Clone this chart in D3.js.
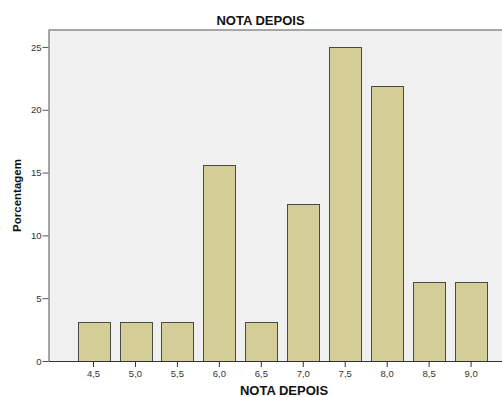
<!DOCTYPE html>
<html>
<head>
<meta charset="utf-8">
<script src="https://cdn.jsdelivr.net/npm/d3@7/dist/d3.min.js"></script>
<style>
  html, body { margin: 0; padding: 0; background: #fff; }
  svg { display: block; font-family: "Liberation Sans", Arial, sans-serif; }
</style>
</head>
<body>
<svg id="chart" width="502" height="397"></svg>
<script>
const categories = ["4,5", "5,0", "5,5", "6,0", "6,5", "7,0", "7,5", "8,0", "8,5", "9,0"];
const percentages = [3.125, 3.125, 3.125, 15.625, 3.125, 12.5, 25, 21.875, 6.25, 6.25];
const yTicks = [0, 5, 10, 15, 20, 25];
const chartTitle = "NOTA DEPOIS";
const xTitle = "NOTA DEPOIS";
const yTitle = "Porcentagem";

const data = categories.map((c, i) => ({ cat: c, value: percentages[i] }));

const svg = d3.select("#chart");
const plotLeft = 48.5, plotRight = 502, plotTop = 30, plotBottom = 361;

const x = d3.scaleBand()
  .domain(categories)
  .range([plotLeft, plotRight])
  .paddingInner(0.24)
  .paddingOuter(0.525)
  .align(0.66);

const y = d3.scaleLinear().domain([0, 26.35]).range([plotBottom, plotTop]);

// plot background
svg.append("rect")
  .attr("x", plotLeft).attr("y", plotTop)
  .attr("width", plotRight - plotLeft).attr("height", plotBottom - plotTop)
  .attr("fill", "#f0f0f0");

// top border
svg.append("line")
  .attr("x1", plotLeft).attr("x2", plotRight)
  .attr("y1", plotTop).attr("y2", plotTop)
  .attr("stroke", "#8c8c8c").attr("stroke-width", 1.5);

// bars
svg.append("g").selectAll("rect")
  .data(data)
  .join("rect")
  .attr("x", d => Math.round(x(d.cat)) + 0.5)
  .attr("y", d => Math.round(y(d.value)) + 0.5)
  .attr("width", Math.round(x.bandwidth()))
  .attr("height", d => Math.round(y(0)) - Math.round(y(d.value)))
  .attr("fill", "#d3ce97")
  .attr("stroke", "#4a4a44")
  .attr("stroke-width", 1);

// y axis
const yAxis = svg.append("g")
  .attr("transform", `translate(${plotLeft},0)`)
  .call(d3.axisLeft(y).tickValues(yTicks).tickSize(6).tickPadding(1).tickSizeOuter(0));
yAxis.select(".domain").attr("stroke", "#555");
yAxis.selectAll(".tick line").attr("stroke", "#555");
yAxis.selectAll("text").attr("font-size", "9.5px").attr("fill", "#333")
  .attr("font-family", "Liberation Sans, Arial, sans-serif");

// x axis
const xAxis = svg.append("g")
  .attr("transform", `translate(0,${plotBottom})`)
  .call(d3.axisBottom(x).tickSize(6).tickPadding(3).tickSizeOuter(0));
xAxis.select(".domain").attr("stroke", "#333");
xAxis.selectAll(".tick line").attr("stroke", "#333");
xAxis.selectAll("text").attr("font-size", "9.5px").attr("fill", "#333")
  .attr("font-family", "Liberation Sans, Arial, sans-serif");

// titles
svg.append("text")
  .attr("x", 260.5).attr("y", 25)
  .attr("text-anchor", "middle")
  .attr("font-size", "13px").attr("font-weight", "bold").attr("fill", "#111")
  .text(chartTitle);

svg.append("text")
  .attr("x", 284).attr("y", 395)
  .attr("text-anchor", "middle")
  .attr("font-size", "13px").attr("font-weight", "bold").attr("fill", "#111")
  .text(xTitle);

svg.append("text")
  .attr("transform", "translate(21,195.5) rotate(-90)")
  .attr("text-anchor", "middle")
  .attr("font-size", "11.5px").attr("font-weight", "bold").attr("fill", "#111")
  .text(yTitle);
</script>
</body>
</html>
